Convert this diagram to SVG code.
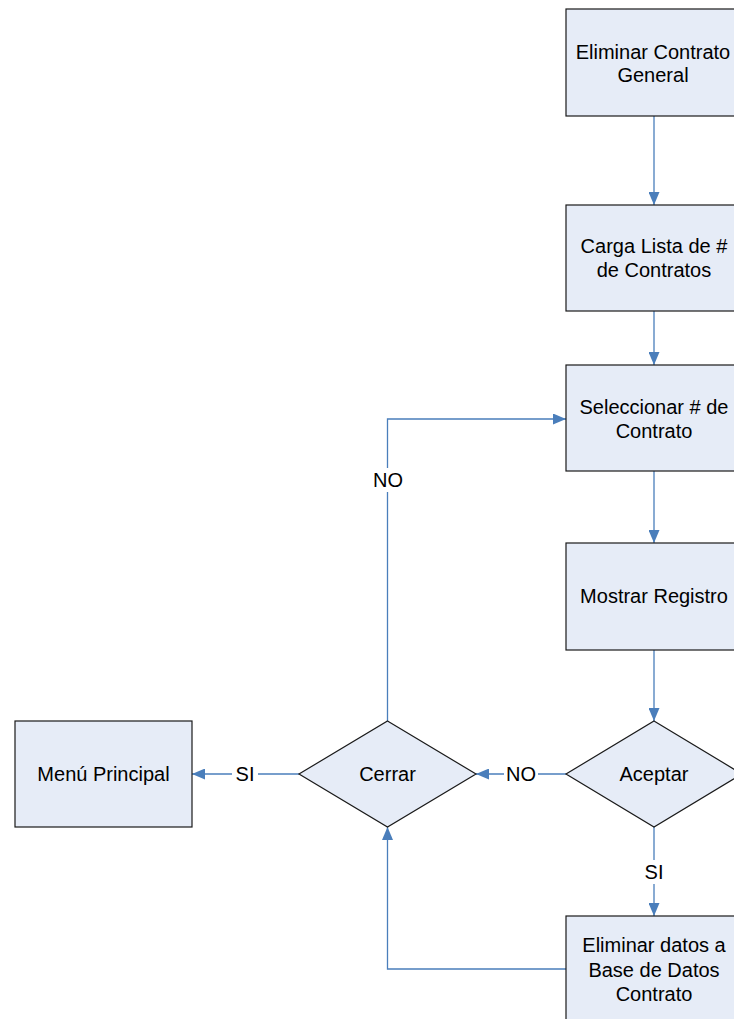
<svg xmlns="http://www.w3.org/2000/svg" width="734" height="1019" viewBox="0 0 734 1019">
<style>
.box{fill:#e6ecf7;stroke:#1a1a1a;stroke-width:1.2}
.t{font-family:"Liberation Sans",Arial,sans-serif;font-size:20px;fill:#000;text-anchor:middle}
.c{fill:none;stroke:#4a7ebb;stroke-width:1.3}
.lbl{fill:#fff}
</style>
<defs>
<marker id="ah" viewBox="0 0 13 11" refX="13" refY="5.5" markerWidth="13" markerHeight="11" markerUnits="userSpaceOnUse" orient="auto">
<path d="M0,0 L13,5.5 L0,11 Z" fill="#4a7ebb"/>
</marker>
</defs>
<rect width="734" height="1019" fill="#fff"/>
<g id="connectors">
<path class="c" d="M654,116 V205" marker-end="url(#ah)"/>
<path class="c" d="M654,311 V365" marker-end="url(#ah)"/>
<path class="c" d="M654,471 V543" marker-end="url(#ah)"/>
<path class="c" d="M654,650 V721" marker-end="url(#ah)"/>
<path class="c" d="M566,774 H476" marker-end="url(#ah)"/>
<path class="c" d="M299,774 H192" marker-end="url(#ah)"/>
<path class="c" d="M387.5,721 V419 H566" marker-end="url(#ah)"/>
<path class="c" d="M654,827 V916" marker-end="url(#ah)"/>
<path class="c" d="M566,969 H387.5 V827" marker-end="url(#ah)"/>
<rect class="lbl" x="504" y="762" width="34" height="24"/>
<text class="t" x="521" y="781">NO</text>
<rect class="lbl" x="232" y="762" width="26" height="24"/>
<text class="t" x="245" y="781">SI</text>
<rect class="lbl" x="371" y="468" width="34" height="24"/>
<text class="t" x="388" y="487">NO</text>
<rect class="lbl" x="641" y="860" width="26" height="24"/>
<text class="t" x="654" y="879">SI</text>
</g>
<g id="n1"><rect class="box" x="566" y="9" width="180" height="107"/>
<text class="t" x="653" y="59">Eliminar Contrato</text><text class="t" x="653" y="82">General</text></g>
<g id="n2"><rect class="box" x="566" y="205" width="180" height="106"/>
<text class="t" x="654" y="253">Carga Lista de #</text><text class="t" x="654" y="277">de Contratos</text></g>
<g id="n3"><rect class="box" x="566" y="365" width="180" height="106"/>
<text class="t" x="654" y="414">Seleccionar # de</text><text class="t" x="654" y="438">Contrato</text></g>
<g id="n4"><rect class="box" x="566" y="543" width="180" height="107"/>
<text class="t" x="654" y="603">Mostrar Registro</text></g>
<g id="n5"><path class="box" d="M654,721 L742,774 L654,827 L566,774 Z"/>
<text class="t" x="654" y="781">Aceptar</text></g>
<g id="n6"><path class="box" d="M387.5,721 L476,774 L387.5,827 L299,774 Z"/>
<text class="t" x="387.5" y="781">Cerrar</text></g>
<g id="n7"><rect class="box" x="15" y="721" width="177" height="106"/>
<text class="t" x="103.5" y="781">Menú Principal</text></g>
<g id="n8"><rect class="box" x="566" y="916" width="180" height="120"/>
<text class="t" x="654" y="952">Eliminar datos a</text><text class="t" x="654" y="977">Base de Datos</text><text class="t" x="654" y="1001">Contrato</text></g>
</svg>
